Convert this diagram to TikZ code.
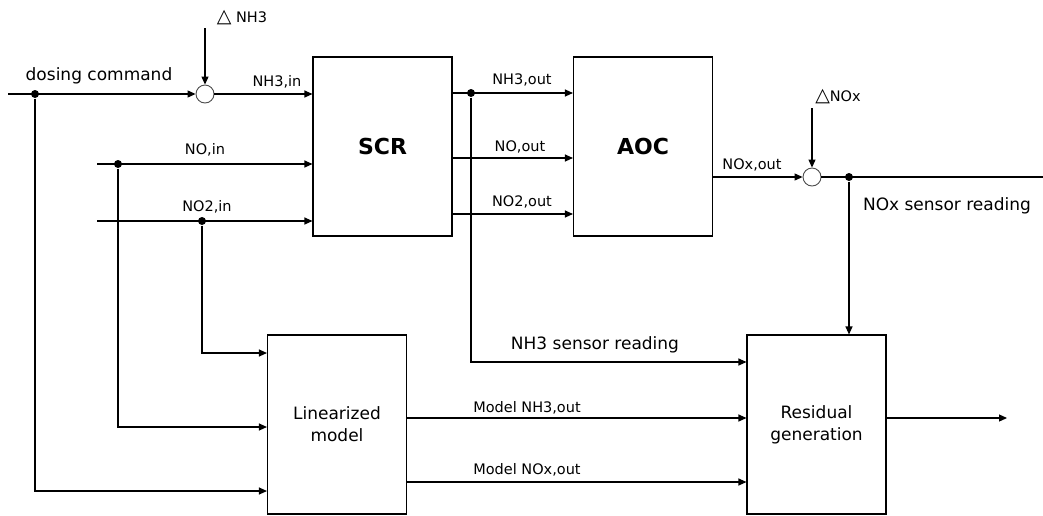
\documentclass[tikz,border=0pt]{standalone}
\usepackage{fontspec}
\setmainfont{DejaVu Sans}
\usetikzlibrary{arrows.meta, positioning, calc}
\newcommand{\dtri}{{\fontsize{19}{19}\selectfont △}}

\begin{document}
\begin{tikzpicture}[x=1pt, y=-1pt, line width=1.1pt,
    every node/.style={font=\fontsize{14.5}{17}\selectfont},
    big/.style={font=\fontsize{17}{20}\selectfont},
    blk/.style={draw, rectangle, minimum width=139pt, minimum height=179pt, inner sep=0pt, align=center, font=\fontsize{17}{22}\selectfont},
    bold/.style={font=\bfseries\fontsize{22}{26}\selectfont},
    sig/.style={-{Triangle[length=8pt,width=7pt]}},
    sumj/.style={draw=black!70, circle, minimum size=18pt, inner sep=0pt, line width=0.9pt},
    dot/.style={circle, fill, minimum size=8pt, inner sep=0pt}]
  \useasboundingbox (0,0) rectangle (1043,515);
  % Blocks
  \node[blk] (scr) at (382.5,146.5) {};
  \node[bold] (scrlbl) at (scr.center) {SCR};
  \node[blk] (aoc) at (643,146.5) {};
  \node[bold] (aoclbl) at (aoc.center) {AOC};
  \node[blk] (lin) at (337,424.5) {Linearized\\model};
  \node[blk] (res) at (816.5,424.5) {Residual\\generation};
  % Dosing command and NH3 disturbance
  \coordinate (din) at (8,94);
  \node[sumj] (s1) at (205,94) {};
  \node[dot] (d1) at (35,94) {};
  \draw[sig] (din) -- (s1);
  \node[big] (dosl) at (99,76) {dosing command};
  \coordinate (dnh) at (205,28);
  \node[anchor=west] (dnhl) at (213,18) {\dtri\ NH3};
  \draw[sig] (dnh) -- (s1);
  \draw[sig] (s1) -- (s1 -| scr.west);
  \node (nh3in) at (277,82) {NH3,in};
  % NO and NO2 inputs
  \coordinate (noin) at (97,164);
  \coordinate (no2in) at (97,221);
  \node[dot] (d2) at (118,164) {};
  \node[dot] (d3) at (202,221) {};
  \draw[sig] (noin) -- (noin -| scr.west);
  \draw[sig] (no2in) -- (no2in -| scr.west);
  \node (noinl) at (205,150) {NO,in};
  \node (no2inl) at (207,207) {NO2,in};
  % Inputs of the linearized model
  \coordinate (lin1) at (268,353);
  \coordinate (lin2) at (268,427);
  \coordinate (lin3) at (268,491);
  \draw[sig] (d1) |- (lin3 -| lin.west);
  \draw[sig] (d2) |- (lin2 -| lin.west);
  \draw[sig] (d3) |- (lin1 -| lin.west);
  % SCR outputs
  \coordinate (so1) at (452,93);
  \coordinate (so2) at (452,158);
  \coordinate (so3) at (452,214);
  \draw[sig] (so1 -| scr.east) -- (so1 -| aoc.west);
  \draw[sig] (so2 -| scr.east) -- (so2 -| aoc.west);
  \draw[sig] (so3 -| scr.east) -- (so3 -| aoc.west);
  \node (nh3out) at (522,80) {NH3,out};
  \node (noout) at (520,147) {NO,out};
  \node (no2out) at (522,202) {NO2,out};
  % NH3 sensor reading
  \node[dot] (d4) at (471,93) {};
  \coordinate (res1) at (747,362);
  \draw[sig] (d4) |- (res1 -| res.west);
  \node[big] (nh3s) at (595,345) {NH3 sensor reading};
  % AOC output and NOx disturbance
  \node[sumj] (s2) at (812,177) {};
  \draw[sig] (s2 -| aoc.east) -- (s2);
  \node (noxout) at (752,165) {NOx,out};
  \coordinate (dnox) at (812,108);
  \node (dnoxl) at (838,97) {\dtri NOx};
  \draw[sig] (dnox) -- (s2);
  \node[dot] (d5) at (849,177) {};
  \coordinate (nout) at (1043,177);
  \draw (s2) -- (nout);
  \draw[sig] (d5) -- (d5 |- res.north);
  \node[big] (noxs) at (947,206) {NOx sensor reading};
  % Model outputs
  \coordinate (lo1) at (406,418);
  \coordinate (lo2) at (406,482);
  \draw[sig] (lo1 -| lin.east) -- (lo1 -| res.west);
  \draw[sig] (lo2 -| lin.east) -- (lo2 -| res.west);
  \node (mnh3) at (527,408) {Model NH3,out};
  \node (mnox) at (527,470) {Model NOx,out};
  % Residual output
  \coordinate (rend) at (1007,418);
  \draw[sig] (rend -| res.east) -- (rend);
\end{tikzpicture}
\end{document}
